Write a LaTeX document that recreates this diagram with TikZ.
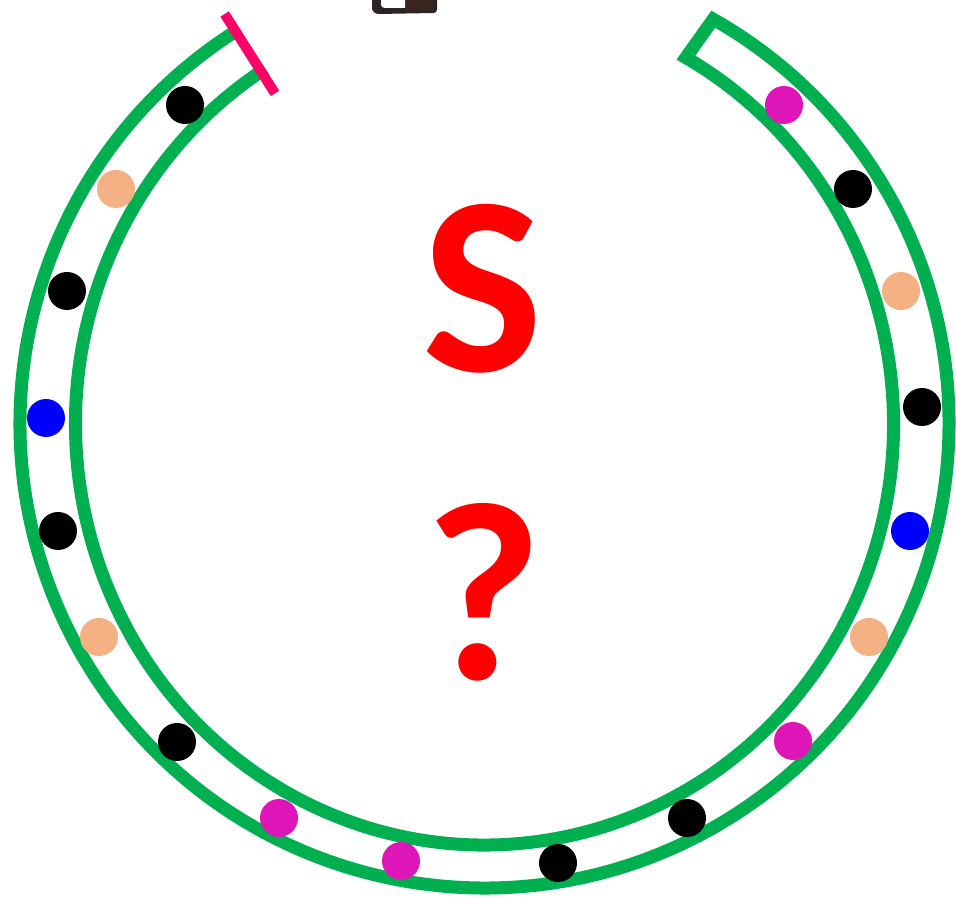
\documentclass[tikz,border=0pt]{standalone}
\usepackage{fontspec}
\setmainfont{Carlito}
\usetikzlibrary{calc}
\definecolor{ringgreen}{HTML}{00B050}
\definecolor{peach}{HTML}{F4B183}
\definecolor{mag}{HTML}{DE16B8}
\definecolor{dotblue}{HTML}{0000FF}
\definecolor{barpink}{HTML}{FF0066}
\definecolor{txtred}{HTML}{FF0000}
\definecolor{clipdark}{HTML}{2A2522}
\definecolor{clipbrown}{HTML}{3A2420}
\tikzset{
  ring/.style={draw=ringgreen,line width=13pt,line join=miter},
  dot/.style={circle,minimum size=38pt,inner sep=0pt,fill=#1},
  bigtxt/.style={text=txtred,font=\bfseries\fontsize{255}{255}\selectfont,inner sep=0pt}
}
\begin{document}
\begin{tikzpicture}[x=1pt,y=1pt]
\useasboundingbox (0,0) rectangle (956,897);
\fill[white] (0,0) rectangle (956,897);
\coordinate (O) at (484.5,473.5);
\coordinate (I) at (484.5,473);
% ring
\draw[ring] ($(O)+(122.4:464.5pt)$) arc[start angle=122.4,end angle=420.5,radius=464.5pt]
  -- ($(I)+(420.5:409pt and 421pt)$) arc[start angle=420.5,end angle=122.4,x radius=409pt,y radius=421pt];
% pink cap
\coordinate (pa) at ($(O)+(122.4:485pt)$);
\coordinate (pb) at ($(O)+(122.4:391pt)$);
\draw[barpink,line width=10pt] (pa) -- (pb);
% partial object at top
\fill[clipdark] (372,897) -- (372,889) to[out=-90,in=180] (379,883) -- (434,884) to[out=0,in=-90] (437,888) -- (437,897) -- cycle;
\fill[white] (381,897) -- (381,892) to[out=-90,in=180] (385,889) -- (405,889) -- (405,897) -- cycle;
\fill[clipbrown] (406,897) -- (406,886) -- (433,886.5) -- (433,897) -- cycle;
% dots
\node[dot=black]    (d1)  at (185,792) {};
\node[dot=peach]    (d2)  at (116,708) {};
\node[dot=black]    (d3)  at (67,606) {};
\node[dot=dotblue]  (d4)  at (46,479) {};
\node[dot=black]    (d5)  at (58,366) {};
\node[dot=peach]    (d6)  at (99,260) {};
\node[dot=black]    (d7)  at (177,155) {};
\node[dot=mag]      (d8)  at (279,79) {};
\node[dot=mag]      (d9)  at (401,36) {};
\node[dot=black]    (d10) at (558,34) {};
\node[dot=black]    (d11) at (687,79) {};
\node[dot=mag]      (d12) at (793,156) {};
\node[dot=peach]    (d13) at (869,260) {};
\node[dot=dotblue]  (d14) at (910,366) {};
\node[dot=black]    (d15) at (922,490) {};
\node[dot=peach]    (d16) at (901,606) {};
\node[dot=black]    (d17) at (853,708) {};
\node[dot=mag]      (d18) at (784,792) {};
% text
\node[bigtxt] (s) at (482.5,608) {S};
\node[bigtxt] (q) at (483.5,305) {?};
\end{tikzpicture}
\end{document}
